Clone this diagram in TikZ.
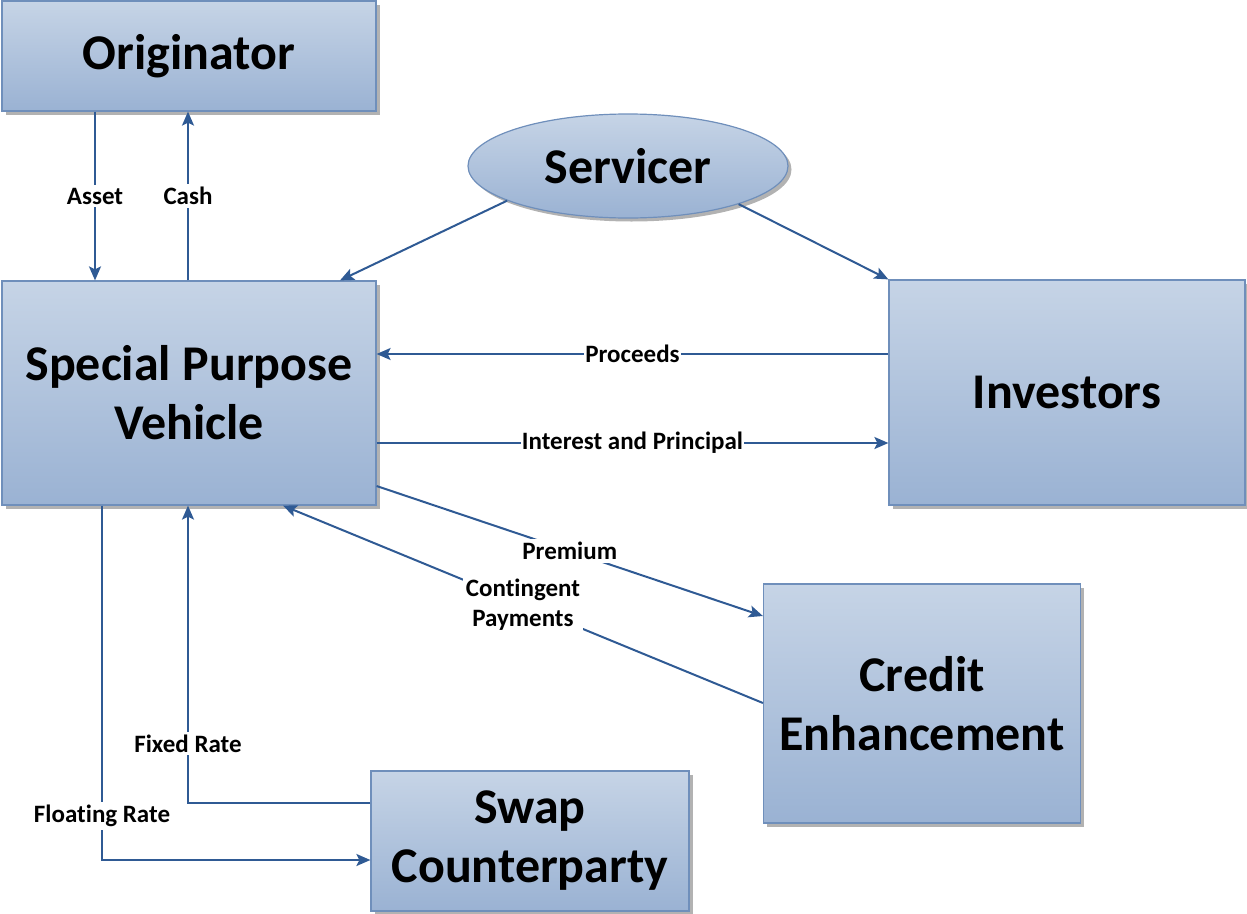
\documentclass[tikz,border=0pt]{standalone}
\usepackage{fontspec}
\setmainfont{Carlito}[Ligatures=NoCommon]
\usetikzlibrary{arrows.meta,shadows,calc,shapes.geometric}
\definecolor{lineblue}{HTML}{2F5A94}
\definecolor{boxtop}{HTML}{C6D4E6}
\definecolor{boxbot}{HTML}{9AB2D3}
\definecolor{boxedge}{HTML}{6F8FBB}
\tikzset{
  entity/.style={draw=boxedge, line width=1.2pt, top color=boxtop, bottom color=boxbot,
    drop shadow={shadow xshift=3.5pt, shadow yshift=-3.5pt, fill=black, opacity=0.3},
    align=center, inner sep=0pt, font=\fontsize{50}{59}\selectfont\bfseries},
  flow/.style={draw=lineblue, line width=2pt, -{Stealth[length=14pt,width=12pt,inset=3pt]}},
  lbl/.style={fill=white, inner sep=3pt, align=center, font=\fontsize{25}{30}\selectfont\bfseries}
}
\begin{document}
\begin{tikzpicture}[x=1pt,y=-1pt]
\useasboundingbox (0,0) rectangle (1247,913);
% boxes
\node[entity, minimum width=374pt, minimum height=110pt] (orig) at (189,56) {Originator};
\node[entity, minimum width=374pt, minimum height=224pt] (spv) at (189,393) {Special Purpose\\Vehicle};
\node[entity, ellipse, minimum width=320pt, minimum height=104pt] (serv) at (628,166) {Servicer};
\node[entity, minimum width=356pt, minimum height=225pt] (inv) at (1067,392.5) {Investors};
\node[entity, minimum width=317pt, minimum height=239pt] (ce) at (922,703.5) {Credit\\Enhancement};
\node[entity, minimum width=318pt, minimum height=140pt] (swap) at (530,841) {Swap\\Counterparty};
% helper coordinates
\coordinate (ax) at (95,0);
\coordinate (cx) at (188,0);
\coordinate (sx) at (340,0);
\coordinate (kx) at (283,0);
\coordinate (flx) at (102,0);
\coordinate (yp) at (0,354);
\coordinate (yi) at (0,443);
\coordinate (yps) at (0,486);
\coordinate (ype) at (0,616);
\coordinate (yc) at (0,703);
\coordinate (yf) at (0,803);
\coordinate (yfl) at (0,860);
% connectors
\draw[flow] (orig.south -| ax) -- node[lbl]{Asset} (spv.north -| ax);
\draw[flow] (spv.north -| cx) -- node[lbl]{Cash} (orig.south -| cx);
\draw[flow] (serv.196) -- (spv.north -| sx);
\draw[flow] (serv.341) -- (inv.north west);
\draw[flow] (inv.west |- yp) -- node[lbl, inner sep=1pt]{Proceeds} (spv.east |- yp);
\draw[flow] (spv.east |- yi) -- node[lbl, inner sep=1pt]{Interest and Principal} (inv.west |- yi);
\draw[flow] (spv.east |- yps) -- node[lbl]{Premium} (ce.west |- ype);
\draw[flow] (ce.west |- yc) -- node[lbl]{Contingent\\Payments} (spv.south -| kx);
\draw[flow] (swap.west |- yf) -| node[lbl, pos=0.6]{Fixed Rate} (spv.south -| cx);
\draw[flow] (spv.south -| flx) |- node[lbl, pos=0.438]{Floating Rate} (swap.west |- yfl);
\end{tikzpicture}
\end{document}
